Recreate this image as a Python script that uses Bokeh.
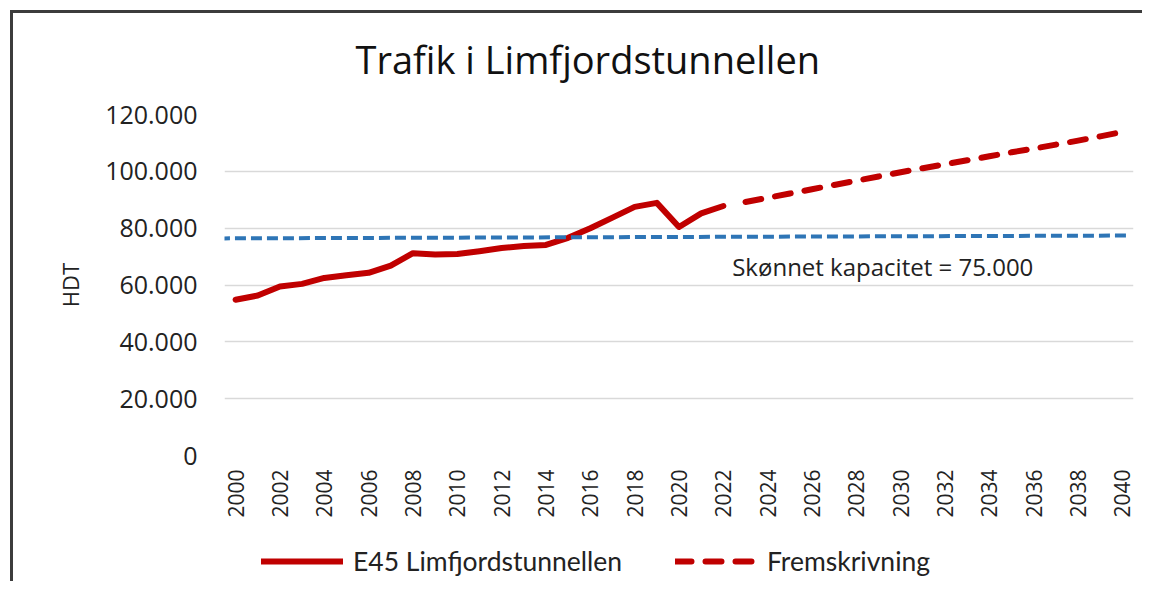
from bokeh.plotting import figure
from bokeh.models import Range1d, FixedTicker, Label, Legend, LegendItem
from bokeh.layouts import column
from bokeh.embed import file_html
from bokeh.resources import INLINE
import math

# ---- data ----
years_hist = list(range(2000, 2023))
traffic_hist = [54800, 56300, 59500, 60400, 62500, 63400, 64300, 66800, 71200, 70700,
                70900, 71900, 73000, 73700, 74100, 76600, 80000, 83700, 87500, 88900,
                80400, 85200, 87800]
years_proj = list(range(2023, 2041))
traffic_proj = [89200, 90700, 92200, 93700, 95200, 96700, 98200, 99700, 101100, 102500,
                103900, 105300, 106700, 108000, 109400, 110800, 112300, 113900]
capacity_years = [1999.25, 2040.2]
capacity_values = [76400, 77400]
y_ticks = [0, 20000, 40000, 60000, 80000, 100000, 120000]
y_tick_labels = ["0", "20.000", "40.000", "60.000", "80.000", "100.000", "120.000"]
x_ticks = list(range(2000, 2041, 2))
x_tick_labels = [str(y) for y in x_ticks]

title_text = "Trafik i Limfjordstunnellen"
y_title = "HDT"
series_names = ["E45 Limfjordstunnellen", "Fremskrivning"]
capacity_text = "Skønnet kapacitet = 75.000"

RED = "#C00000"
BLUE = "#2E75B6"
TXT = "#222222"
FONT = "Open Sans"

W, H_MAIN, H_LEG = 1142, 530, 51

p = figure(width=W, height=H_MAIN, output_backend="svg", toolbar_location=None,
           x_range=Range1d(1999.5, 2040.5), y_range=Range1d(0, 120000),
           min_border_left=224, min_border_right=9, min_border_top=114, min_border_bottom=75)
p.outline_line_color = None
p.background_fill_color = "white"
p.border_fill_alpha = 0
# outer chart border (top and left edges visible in the reference)
p.styles = {"box-shadow": "inset 10px 10px 0 0 #FFFFFF, inset 13px 13px 0 0 #3C3C3C"}

# title
p.title.text = title_text
p.title.align = "left"
p.title.offset = 131
p.title.standoff = 60
p.title.text_font = FONT
p.title.text_font_size = "38px"
p.title.text_font_style = "normal"
p.title.text_color = "#111111"

# axes
p.yaxis.ticker = FixedTicker(ticks=y_ticks)
p.yaxis.major_label_overrides = dict(zip(y_ticks, y_tick_labels))
p.yaxis.axis_line_color = None
p.yaxis.major_tick_line_color = None
p.yaxis.minor_tick_line_color = None
p.yaxis.major_tick_out = 0
p.yaxis.major_tick_in = 0
p.yaxis.major_label_standoff = 27
p.yaxis.major_label_text_font = FONT
p.yaxis.major_label_text_font_size = "25px"
p.yaxis.major_label_text_color = TXT
p.yaxis.axis_label = y_title
p.yaxis.axis_label_text_font = FONT
p.yaxis.axis_label_text_font_size = "22px"
p.yaxis.axis_label_text_font_style = "normal"
p.yaxis.axis_label_text_color = TXT
p.yaxis.axis_label_standoff = 17

p.xaxis.ticker = FixedTicker(ticks=x_ticks)
p.xaxis.major_label_overrides = dict(zip(x_ticks, x_tick_labels))
p.xaxis.axis_line_color = None
p.xaxis.major_tick_line_color = None
p.xaxis.minor_tick_line_color = None
p.xaxis.major_tick_out = 0
p.xaxis.major_tick_in = 0
p.xaxis.major_label_standoff = 14
p.xaxis.major_label_orientation = math.pi / 2
p.xaxis.major_label_text_font = FONT
p.xaxis.major_label_text_font_size = "21px"
p.xaxis.major_label_text_color = TXT

p.xgrid.grid_line_color = None
p.ygrid.ticker = FixedTicker(ticks=y_ticks)
p.ygrid.grid_line_color = "#D9D9D9"
p.ygrid.grid_line_width = 1.5

hist_style = dict(line_color=RED, line_width=6, line_join="round", line_cap="round")
proj_style = dict(line_color=RED, line_width=6, line_dash="16 14", line_cap="round",
                  line_join="round")

# series
p.line(years_hist, traffic_hist, **hist_style)
p.line(years_proj, traffic_proj, **proj_style)
p.line(capacity_years, capacity_values, line_color=BLUE, line_width=4,
       line_dash="11 5", line_cap="butt")

p.add_layout(Label(x=2022.4, y=66500, text=capacity_text, text_font=FONT,
                   text_font_size="24px", text_color=TXT, text_align="left",
                   text_baseline="alphabetic"))

# legend strip (separate small figure so the legend is not clipped);
# its frame is aligned with the main frame, the series lie outside its view
p2 = figure(width=W, height=H_LEG, output_backend="svg", toolbar_location=None,
            x_axis_type=None, y_axis_type=None, x_range=Range1d(0, 1), y_range=Range1d(0, 1),
            min_border=0)
p2.outline_line_color = None
p2.background_fill_alpha = 0
p2.border_fill_alpha = 0
p2.grid.grid_line_color = None
p2.styles = {"box-shadow": "inset 10px 0 0 0 #FFFFFF, inset 13px 0 0 0 #3C3C3C"}
l_hist = p2.line(years_hist, traffic_hist, **hist_style)
l_proj = p2.line(years_proj, traffic_proj, **proj_style)

legend = Legend(items=[LegendItem(label=series_names[0], renderers=[l_hist]),
                       LegendItem(label=series_names[1], renderers=[l_proj])],
                location=(37, 4), orientation="horizontal",
                glyph_width=82, glyph_height=30, label_height=30, label_width=270,
                label_standoff=10, spacing=52, padding=0, margin=0,
                border_line_color=None, background_fill_alpha=0,
                label_text_font="Lato", label_text_font_size="26.5px",
                label_text_color=TXT)
p2.add_layout(legend)

layout = column(p, p2, spacing=0)
open("out.html", "w").write(file_html(layout, INLINE))
